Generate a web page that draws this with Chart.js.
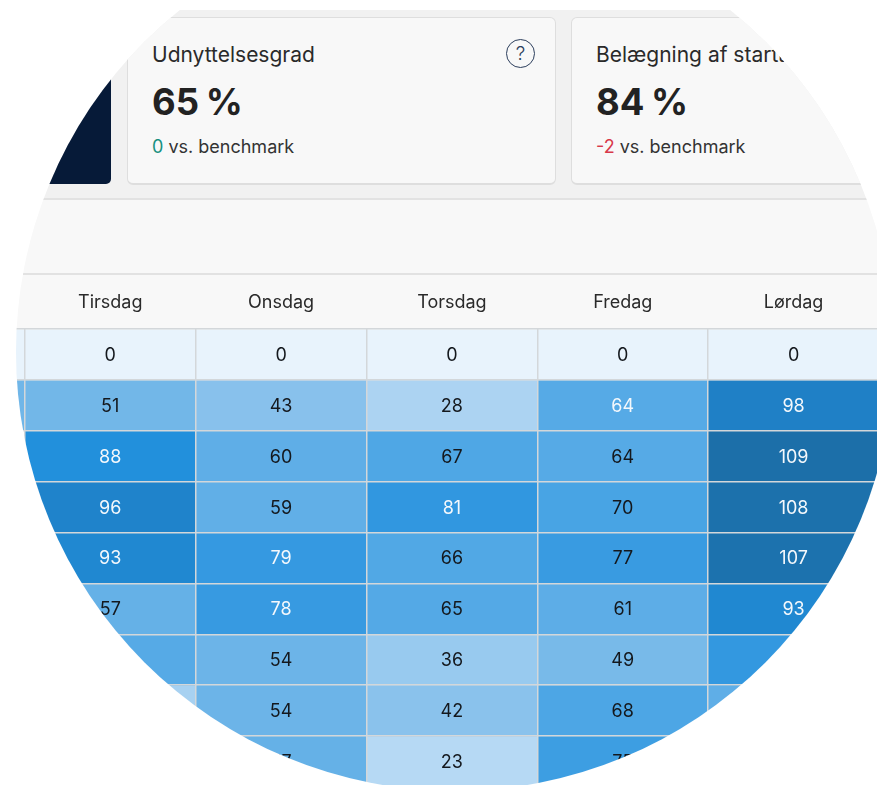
<!DOCTYPE html>
<html lang="da">
<head>
<meta charset="utf-8">
<title>Belægning</title>
<script src="https://cdn.jsdelivr.net/npm/chart.js@4"></script>
<style>
html, body { margin: 0; padding: 0; background: #fff; overflow: hidden; width: 877px; height: 785px; }
body { font-family: Inter, sans-serif; color: #222; }
/* runde maske, siden ligger inde i den */
#mask { position: absolute; left: 16px; top: -87px; width: 878px; height: 878px; border-radius: 50%; overflow: hidden; }
#page { position: absolute; left: -16px; top: 87px; width: 1000px; height: 800px; }
#top { position: absolute; left: 0; top: 10px; width: 1000px; height: 188px; background: #f1f1f1; border-bottom: 2px solid #e2e2e2; }
#band { position: absolute; left: 0; top: 200px; width: 1000px; height: 73px; background: #f8f8f8; border-bottom: 2px solid #e2e2e2; }
#head { position: absolute; left: 0; top: 275px; width: 1000px; height: 55px; background: #f8f8f8; }
#dark { position: absolute; left: -100px; top: 17px; width: 211px; height: 167px; background: #061a38; border-radius: 5px; }
.card { position: absolute; top: 17px; height: 165px; background: #f8f8f8; border: 1px solid #dedede; border-bottom-width: 2px; border-radius: 6px; box-sizing: content-box; }
#c1 { left: 127px; width: 427px; }
#c2 { left: 571px; width: 400px; }
.t { position: absolute; left: 24px; top: 24px; font-size: 21px; line-height: 26px; white-space: nowrap; color: #2a2a2a; }
.v { position: absolute; left: 24px; top: 61px; font-size: 36.5px; line-height: 46px; font-weight: 700; white-space: nowrap; color: #222; word-spacing: -2px; }
.s { position: absolute; left: 24px; top: 117px; font-size: 18px; line-height: 24px; white-space: nowrap; color: #333; }
.up { color: #17907f; }
.down { color: #d8394a; }
#help { position: absolute; left: 378px; top: 21px; width: 27px; height: 27px; border: 1.2px solid #2c3e5c; border-radius: 50%; text-align: center; font-size: 19px; font-weight: 300; line-height: 27px; color: #2c3e5c; }
#chart { position: absolute; left: -146px; top: 275px; }
</style>
</head>
<body>
<div id="mask">
  <div id="page">
    <div id="top"></div>
    <div id="band"></div>
    <div id="head"></div>
    <div id="dark"></div>
    <div class="card" id="c1">
      <div class="t">Udnyttelsesgrad</div>
      <div id="help">?</div>
      <div class="v">65 %</div>
      <div class="s"><span class="up">0</span> vs. benchmark</div>
    </div>
    <div class="card" id="c2">
      <div class="t">Belægning af starttider</div>
      <div class="v">84 %</div>
      <div class="s"><span class="down">-2</span> vs. benchmark</div>
    </div>
    <canvas id="chart" width="1025" height="512"></canvas>
  </div>
</div>

<script>
const days = ['Mandag', 'Tirsdag', 'Onsdag', 'Torsdag', 'Fredag', 'Lørdag'];

// en liste pr. dag, fra øverste række og ned (null = ligger uden for billedet)
const mandag = [0, 52, null, null, null, null, null, null, null];
const tirsdag = [0, 51, 88, 96, 93, 57, 64, 30, null];
const onsdag = [0, 43, 60, 59, 79, 78, 54, 54, 57];
const torsdag = [0, 28, 67, 81, 66, 65, 36, 42, 23];
const fredag = [0, 64, 64, 70, 77, 61, 49, 68, 75];
const loerdag = [0, 98, 109, 108, 107, 93, 80, 60, null];

const columns = [mandag, tirsdag, onsdag, torsdag, fredag, loerdag];
const rowCount = 9;

// farveskala: værdi -> rgb
const stops = [
    [0, 232, 243, 252], [23, 182, 217, 244], [28, 172, 211, 242], [36, 152, 202, 239],
    [43, 136, 193, 236], [51, 114, 183, 232], [60, 95, 174, 231], [70, 72, 164, 228],
    [78, 55, 154, 225], [88, 34, 144, 220], [96, 31, 131, 203], [109, 28, 111, 169]
];

function cellColor(v) {
    for (let i = 1; i < stops.length; i++) {
        if (v <= stops[i][0]) {
            const a = stops[i - 1], b = stops[i];
            const f = (v - a[0]) / (b[0] - a[0]);
            const ch = (n) => Math.round(a[n] + (b[n] - a[n]) * f);
            return 'rgb(' + ch(1) + ',' + ch(2) + ',' + ch(3) + ')';
        }
    }
    return 'rgb(28,111,169)';
}

function labelColor(col, row) {
    const v = columns[col][row];
    // Fredag række 1 er hvid i originalen selvom værdien er lav
    if (col === 4 && row === 1) return '#f4f8fc';
    return v >= 78 ? '#f4f8fc' : '#14181d';
}

const rowSets = [];
for (let r = 0; r < rowCount; r++) {
    rowSets.push({
        label: 'Række ' + r,
        data: columns.map((c) => (c[r] === null ? null : [r, r + 1])),
        backgroundColor: columns.map((c) => (c[r] === null ? 'transparent' : cellColor(c[r]))),
        borderWidth: 0,
        grouped: false,
        barPercentage: 1,
        categoryPercentage: 1
    });
}

const cellLabels = {
    id: 'cellLabels',
    afterDraw(chart) {
        const ctx = chart.ctx;
        ctx.save();
        ctx.font = '18px Inter';
        ctx.textAlign = 'center';
        ctx.textBaseline = 'middle';
        rowSets.forEach((set, r) => {
            chart.getDatasetMeta(r).data.forEach((bar, c) => {
                if (columns[c][r] === null) return;
                const p = bar.getCenterPoint();
                ctx.fillStyle = labelColor(c, r);
                ctx.fillText(columns[c][r], p.x, p.y + 1);
            });
        });
        ctx.restore();
    }
};

new Chart(document.getElementById('chart'), {
    type: 'bar',
    data: { labels: days, datasets: rowSets },
    plugins: [cellLabels],
    options: {
        responsive: false,
        animation: false,
        layout: { padding: 0 },
        plugins: { legend: { display: false }, tooltip: { enabled: false } },
        scales: {
            x: {
                position: 'top',
                afterFit(scale) { scale.height = 54; },
                border: { display: false },
                grid: { offset: true, z: 1, color: '#d3d7da', lineWidth: 1.5, drawTicks: false, tickLength: 0 },
                ticks: { color: '#2a2a2a', font: { family: 'Inter', size: 18 }, padding: 16, maxRotation: 0, autoSkip: false }
            },
            y: {
                reverse: true,
                min: 0,
                max: rowCount,
                afterFit(scale) { scale.width = 0; },
                border: { display: false },
                grid: { z: 1, color: '#d3d7da', lineWidth: 1.5, drawTicks: false, tickLength: 0 },
                ticks: { display: false, stepSize: 1, autoSkip: false }
            }
        }
    }
});
</script>
</body>
</html>
